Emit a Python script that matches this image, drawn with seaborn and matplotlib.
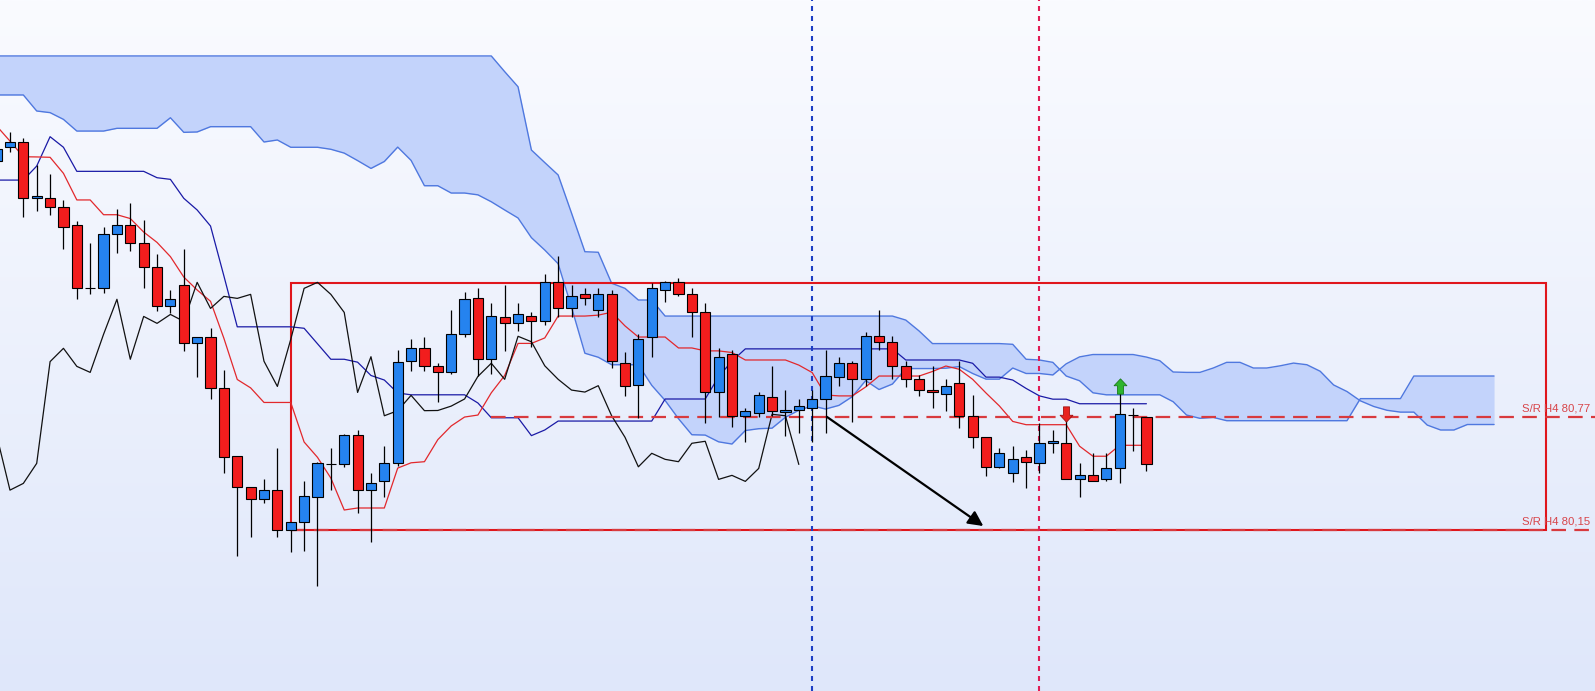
import numpy as np
import pandas as pd
import matplotlib
matplotlib.use("Agg")
import matplotlib.pyplot as plt
import seaborn as sns
from matplotlib.patches import Rectangle
from matplotlib.path import Path

# ---------------- data ----------------
opens = [82.175, 82.253, 82.277, 81.970, 81.970, 81.921, 81.822, 81.480, 81.476, 81.772,
         81.822, 81.723, 81.591, 81.381, 81.493, 81.174, 81.211, 80.927, 80.558, 80.388,
         80.318, 80.369, 80.150, 80.195, 80.329, 80.510, 80.510, 80.671, 80.369, 80.419,
         80.516, 81.077, 81.147, 81.048, 81.015, 81.224, 81.421, 81.087, 81.317, 81.284,
         81.322, 81.295, 81.509, 81.366, 81.443, 81.355, 81.443, 81.065, 80.944, 81.207,
         81.465, 81.509, 81.443, 81.344, 80.905, 81.114, 80.777, 80.794, 80.880, 80.795,
         80.807, 80.818, 80.869, 80.991, 81.065, 80.977, 81.213, 81.183, 81.051, 80.977,
         80.918, 80.894, 80.955, 80.777, 80.659, 80.497, 80.461, 80.549, 80.516, 80.626,
         80.626, 80.428, 80.450, 80.428, 80.488, 80.779, 80.768]
highs = [82.284, 82.332, 82.299, 82.153, 82.103, 81.961, 81.845, 81.723, 81.814, 81.911,
         81.942, 81.851, 81.664, 81.467, 81.690, 81.211, 81.257, 81.028, 80.558, 80.388,
         80.430, 80.598, 80.195, 80.419, 80.525, 80.598, 80.677, 80.699, 80.461, 80.611,
         81.138, 81.196, 81.207, 81.065, 81.357, 81.454, 81.476, 81.394, 81.494, 81.394,
         81.346, 81.555, 81.653, 81.494, 81.476, 81.476, 81.467, 81.128, 81.224, 81.504,
         81.516, 81.531, 81.476, 81.394, 81.147, 81.138, 80.818, 80.909, 81.048, 80.918,
         80.869, 80.918, 81.138, 81.101, 81.077, 81.235, 81.357, 81.214, 81.077, 81.000,
         81.050, 80.977, 81.077, 80.891, 80.659, 80.598, 80.611, 80.589, 80.735, 80.699,
         80.781, 80.516, 80.571, 80.571, 80.900, 80.818, 80.768]
lows = [82.147, 82.222, 81.869, 81.902, 81.878, 81.690, 81.417, 81.443, 81.452, 81.671,
        81.682, 81.479, 81.353, 81.339, 81.134, 80.991, 80.867, 80.461, 80.009, 80.110,
        80.300, 80.110, 80.031, 80.036, 79.843, 80.369, 80.497, 80.242, 80.086, 80.329,
        80.501, 81.024, 81.024, 80.854, 81.004, 81.207, 80.995, 81.004, 81.134, 81.243,
        81.156, 81.273, 81.317, 81.317, 81.385, 81.317, 81.037, 80.887, 80.766, 81.098,
        81.403, 81.432, 81.211, 80.735, 80.772, 80.717, 80.634, 80.772, 80.777, 80.667,
        80.684, 80.634, 80.684, 80.942, 80.744, 80.942, 81.138, 80.977, 80.936, 80.885,
        80.818, 80.805, 80.708, 80.598, 80.448, 80.488, 80.415, 80.379, 80.461, 80.574,
        80.428, 80.329, 80.417, 80.417, 80.406, 80.583, 80.475]
closes = [82.239, 82.277, 81.970, 81.981, 81.921, 81.811, 81.476, 81.476, 81.772, 81.822,
          81.723, 81.591, 81.381, 81.419, 81.174, 81.211, 80.927, 80.549, 80.388, 80.318,
          80.369, 80.150, 80.195, 80.338, 80.516, 80.510, 80.671, 80.369, 80.406, 80.516,
          81.074, 81.147, 81.048, 81.015, 81.224, 81.416, 81.087, 81.322, 81.284, 81.333,
          81.295, 81.509, 81.366, 81.432, 81.421, 81.443, 81.076, 80.938, 81.196, 81.476,
          81.509, 81.443, 81.344, 80.905, 81.101, 80.777, 80.805, 80.889, 80.805, 80.806,
          80.830, 80.869, 80.993, 81.065, 80.977, 81.213, 81.183, 81.051, 80.977, 80.918,
          80.907, 80.942, 80.777, 80.659, 80.497, 80.571, 80.538, 80.525, 80.626, 80.637,
          80.428, 80.450, 80.417, 80.488, 80.785, 80.777, 80.510]

tenkan = [82.367, 82.284, 82.198, 82.197, 82.195, 82.107, 81.961, 81.961, 81.880, 81.880,
          81.859, 81.785, 81.728, 81.650, 81.538, 81.467, 81.405, 81.202, 80.976, 80.930,
          80.850, 80.850, 80.850, 80.633, 80.549, 80.435, 80.260, 80.271, 80.271, 80.271,
          80.490, 80.519, 80.525, 80.646, 80.721, 80.770, 80.781, 80.903, 80.998, 81.174,
          81.174, 81.204, 81.324, 81.324, 81.324, 81.329, 81.345, 81.270, 81.209, 81.209,
          81.209, 81.149, 81.149, 81.133, 81.133, 81.124, 81.083, 81.083, 81.083, 81.083,
          81.055, 81.014, 80.891, 80.886, 80.886, 80.935, 80.995, 80.995, 80.995, 80.995,
          81.020, 81.050, 81.032, 80.977, 80.902, 80.831, 80.746, 80.728, 80.728, 80.728,
          80.728, 80.610, 80.555, 80.555, 80.615, 80.615, 80.615]
kijun = [82.070, 82.070, 82.070, 82.147, 82.308, 82.250, 82.118, 82.118, 82.118, 82.118,
         82.118, 82.118, 82.083, 82.074, 81.970, 81.906, 81.818, 81.544, 81.265, 81.265,
         81.265, 81.265, 81.265, 81.257, 81.172, 81.087, 81.087, 81.071, 80.998, 80.973,
         80.902, 80.892, 80.892, 80.892, 80.892, 80.892, 80.847, 80.766, 80.766, 80.766,
         80.668, 80.699, 80.748, 80.748, 80.748, 80.748, 80.748, 80.748, 80.748, 80.748,
         80.869, 80.869, 80.869, 80.869, 80.991, 81.077, 81.144, 81.144, 81.144, 81.144,
         81.144, 81.144, 81.144, 81.144, 81.144, 81.144, 81.144, 81.144, 81.083, 81.083,
         81.083, 81.083, 81.083, 81.065, 80.989, 80.989, 80.973, 80.927, 80.886, 80.868,
         80.868, 80.843, 80.843, 80.843, 80.843, 80.843, 80.843]
senkou_a = [82.537, 82.537, 82.537, 82.449, 82.440, 82.403, 82.339, 82.339, 82.339, 82.354,
            82.354, 82.354, 82.354, 82.412, 82.332, 82.334, 82.363, 82.363, 82.363, 82.363,
            82.279, 82.290, 82.250, 82.250, 82.250, 82.239, 82.218, 82.177, 82.134, 82.172,
            82.251, 82.178, 82.039, 82.039, 81.999, 81.999, 81.989, 81.951, 81.906, 81.862,
            81.754, 81.686, 81.611, 81.372, 81.120, 81.098, 81.057, 81.057, 81.057, 80.944,
            80.861, 80.761, 80.673, 80.671, 80.634, 80.622, 80.696, 80.706, 80.709, 80.769,
            80.807, 80.831, 80.814, 80.834, 80.882, 80.970, 80.921, 80.951, 81.036, 81.036,
            81.036, 81.038, 81.047, 81.009, 80.978, 80.978, 81.039, 81.009, 81.009, 81.001,
            81.062, 81.100, 81.113, 81.113, 81.113, 81.113, 81.099, 81.079, 81.017, 81.015,
            81.015, 81.039, 81.070, 81.070, 81.039, 81.039, 81.051, 81.066, 81.057, 81.021,
            80.946, 80.910, 80.859, 80.828, 80.807, 80.797, 80.797, 80.726, 80.699, 80.699,
            80.729, 80.729, 80.729]
senkou_b = [82.751, 82.751, 82.751, 82.751, 82.751, 82.751, 82.751, 82.751, 82.751, 82.751,
            82.751, 82.751, 82.751, 82.751, 82.751, 82.751, 82.751, 82.751, 82.751, 82.751,
            82.751, 82.751, 82.751, 82.751, 82.751, 82.751, 82.751, 82.751, 82.751, 82.751,
            82.751, 82.751, 82.751, 82.751, 82.751, 82.751, 82.751, 82.751, 82.665, 82.582,
            82.235, 82.166, 82.098, 81.889, 81.677, 81.674, 81.504, 81.476, 81.412, 81.412,
            81.324, 81.324, 81.324, 81.324, 81.324, 81.324, 81.324, 81.324, 81.324, 81.324,
            81.324, 81.324, 81.324, 81.324, 81.324, 81.324, 81.324, 81.324, 81.302, 81.242,
            81.173, 81.173, 81.173, 81.173, 81.173, 81.173, 81.169, 81.087, 81.083, 81.070,
            80.995, 80.969, 80.903, 80.892, 80.892, 80.892, 80.892, 80.892, 80.854, 80.781,
            80.763, 80.768, 80.750, 80.750, 80.750, 80.750, 80.750, 80.750, 80.750, 80.750,
            80.750, 80.750, 80.871, 80.871, 80.871, 80.871, 80.995, 80.995, 80.995, 80.995,
            80.995, 80.995, 80.995]

chikou_shift = 26
sr_levels = [80.77, 80.15]
sr_labels = ["S/R H4 80,77", "S/R H4 80,15"]
sr_starts = [38.0, 23.0]
box_left, box_right = 23.02, 116.86
box_bottom, box_top = 80.150, 81.507
vline_blue, vline_red = 62, 79
trend_start = (63.1, 80.771)
trend_end = (74.8, 80.172)
sell_idx, sell_price = [81], [80.788]
buy_idx, buy_price = [85], [80.940]

# ---------------- style ----------------
sns.set_style("white")
plt.rcParams["font.family"] = ["Liberation Sans", "DejaVu Sans"]
plt.rcParams["lines.scale_dashes"] = False

W, H, DPI = 1595, 691, 100
fig = plt.figure(figsize=(W / DPI, H / DPI), dpi=DPI)
ax = fig.add_axes([0, 0, 1, 1])
ax.set_axis_off()
xmin, xmax = 1.254, 120.55
ymin, ymax = 79.267, 83.058
ax.set_xlim(xmin, xmax)
ax.set_ylim(ymin, ymax)

# background gradient
top = np.array([250, 251, 255]) / 255
bot = np.array([223, 231, 250]) / 255
t = np.linspace(0, 1, 256)[:, None]
grad = (top[None, :] * (1 - t) + bot[None, :] * t)[:, None, :]
ax.imshow(grad, extent=[0, 1, 0, 1], transform=ax.transAxes, aspect="auto", zorder=0)

n = len(opens)
idx = np.arange(1, n + 1)
cidx = np.arange(1, len(senkou_a) + 1)

# cloud
ax.fill_between(cidx, senkou_a, senkou_b, color="#c3d3fb", lw=0, zorder=1)
cloud = pd.DataFrame({"i": cidx, "a": senkou_a, "b": senkou_b})
sns.lineplot(data=cloud, x="i", y="a", ax=ax, color="#4f78df", lw=1.0, estimator=None, zorder=2)
sns.lineplot(data=cloud, x="i", y="b", ax=ax, color="#4f78df", lw=1.0, estimator=None, zorder=2)

# indicator lines
lines = pd.DataFrame({"i": idx, "tenkan": tenkan, "kijun": kijun, "close": closes})
sns.lineplot(data=lines, x="i", y="kijun", ax=ax, color="#1a1aa6", lw=0.9, estimator=None, zorder=3)
sns.lineplot(data=lines, x="i", y="tenkan", ax=ax, color="#e2282c", lw=0.9, estimator=None, zorder=3)
chik = pd.DataFrame({"i": idx[chikou_shift:] - chikou_shift, "c": closes[chikou_shift:]})
sns.lineplot(data=chik, x="i", y="c", ax=ax, color="#111111", lw=0.9, estimator=None, zorder=3)

# rectangle
ax.add_patch(Rectangle((box_left, box_bottom), box_right - box_left, box_top - box_bottom,
                       fill=False, edgecolor="#e0161c", lw=1.5, zorder=2.5))

# S/R levels
for lvl, lab, st in zip(sr_levels, sr_labels, sr_starts):
    ax.plot([st, xmax], [lvl, lvl], color="#d83a3e", lw=1.6, dashes=(10.5, 6), zorder=3.5)
    ax.annotate(lab, xy=(0.997, lvl), xycoords=("axes fraction", "data"),
                xytext=(0, 2.2), textcoords="offset points", ha="right", va="bottom",
                fontsize=8.2, color="#d8454a", zorder=9)

# vertical dotted lines
ax.axvline(vline_blue, color="#1d3fc4", lw=1.5, dashes=(3.6, 3.6), zorder=3.6)
ax.axvline(vline_red, color="#e11d55", lw=1.5, dashes=(3.6, 3.6), zorder=3.6)

# candles
o = np.array(opens); c = np.array(closes); h = np.array(highs); l = np.array(lows)
ax.vlines(idx, l, h, color="black", lw=0.9, zorder=4)
body_col = np.where(c >= o, "#2583ef", "#f21d1d")
hgt = c - o
hgt = np.where(np.abs(hgt) < 0.002, 0.002, hgt)
ax.bar(idx, hgt, bottom=o, width=0.76, color=body_col, edgecolor="black", lw=0.8, zorder=5)

# trend arrow
ax.annotate("", xy=trend_end, xytext=trend_start,
            arrowprops=dict(arrowstyle="-|>,head_length=0.9,head_width=0.45", color="black",
                            lw=1.6, shrinkA=0, shrinkB=0), zorder=7)

# signal arrows
down = Path([(-0.2, 0.5), (0.2, 0.5), (0.2, -0.05), (0.42, -0.05), (0, -0.5),
             (-0.42, -0.05), (-0.2, -0.05), (-0.2, 0.5)], closed=True)
up = Path([(-0.2, -0.5), (0.2, -0.5), (0.2, 0.05), (0.42, 0.05), (0, 0.5),
           (-0.42, 0.05), (-0.2, 0.05), (-0.2, -0.5)], closed=True)
ax.plot(sell_idx, sell_price, marker=down, ms=11, color="#e8231f", mec="#a01212", mew=0.6,
        ls="none", zorder=8)
ax.plot(buy_idx, buy_price, marker=up, ms=11, color="#2eb52e", mec="#1b7a1b", mew=0.6,
        ls="none", zorder=8)

fig.savefig("out.png", dpi=DPI)
